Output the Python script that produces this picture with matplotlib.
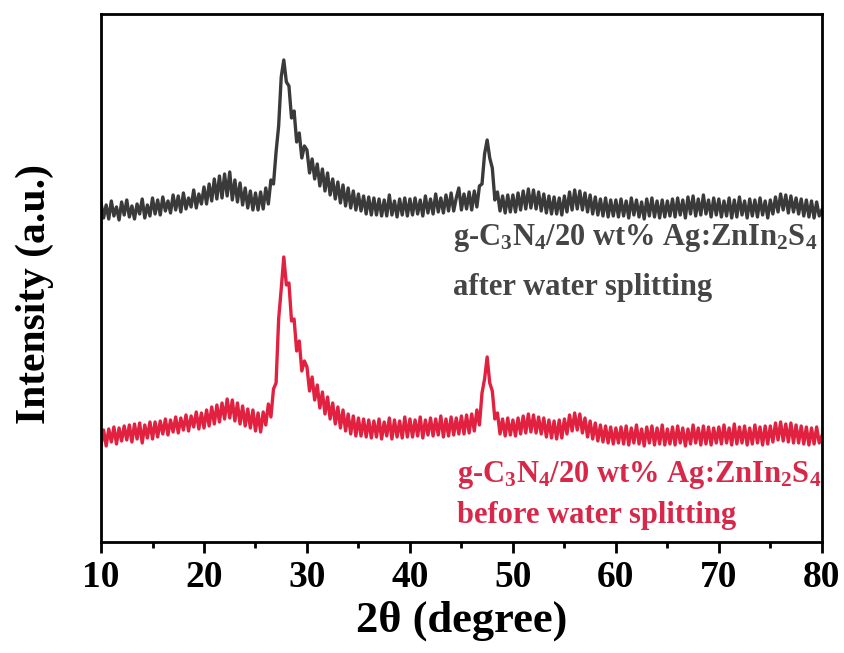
import numpy as np
import matplotlib.pyplot as plt
from matplotlib.ticker import MultipleLocator

# 2theta grid, 0.25 deg step, 10..80
two_theta = np.arange(10.0, 80.01, 0.25)

# after water splitting (grey), intensity above its own baseline
after_ws = [
    7, -8, 5, -9, 9, -6, 3, -10, 8, -5, 10, -7, 4, -9, 6, -4, 11, -8, 5, -6,
    12, -4, 10, -5, 13, -1, 9, -3, 15, 0, 14, -2, 17, 1, 12, 3, 20, 2, 16, 6,
    23, 6, 26, 9, 31, 11, 34, 12, 36, 14, 38, 10, 30, 8, 27, 5, 22, 2, 19, 0,
    17, 0, 18, 1, 22, 6, 30, 26, 58, 84, 133, 150, 128, 124, 92, 99, 68, 77, 52, 64,
    60, 37, 51, 31, 46, 24, 41, 19, 37, 15, 31, 11, 28, 7, 25, 4, 22, 2, 19, 0,
    16, -1, 14, -4, 13, -5, 12, -5, 11, -6, 10, -6, 15, -5, 9, -7, 11, -5, 12, -6,
    11, -5, 12, -4, 10, -6, 14, -3, 11, -4, 16, -2, 12, -3, 15, -1, 17, -1, 12, 22,
    0, 16, 1, 18, 0, 19, 3, 24, 26, 56, 70, 52, 42, 10, 18, -1, 14, -3, 15, -2,
    15, -2, 17, 0, 19, 1, 21, 2, 20, 1, 18, -1, 16, -3, 14, -4, 13, -4, 12, -5,
    14, -2, 18, 0, 20, 1, 19, 0, 17, -2, 15, -4, 13, -5, 11, -6, 12, -7, 10, -6,
    10, -7, 11, -6, 9, -8, 12, -5, 10, -7, 8, -9, 11, -6, 12, -7, 9, -8, 10, -7,
    9, -6, 11, -7, 12, -5, 10, -8, 13, -4, 14, -6, 11, -5, 15, -4, 10, -7, 12, -5,
    11, -7, 9, -6, 12, -8, 10, -7, 13, -5, 9, -8, 11, -6, 10, -7, 12, -5, 9, -8,
    10, -4, 13, -2, 16, 0, 15, -3, 14, -2, 12, -4, 11, -6, 10, -7, 9, -8, 8, -6,
    0,
]

# before water splitting (red)
before_ws = [
    -8, 7, -9, 8, -5, 10, -7, 9, -4, 11, -3, 12, -5, 13, -2, 14, -6, 12, -1, 15,
    -2, 15, 0, 16, 3, 18, 2, 17, 5, 20, 4, 19, 7, 22, 6, 21, 10, 25, 8, 24,
    9, 27, 11, 30, 13, 32, 15, 34, 18, 38, 19, 37, 16, 34, 13, 31, 11, 28, 9, 27,
    6, 24, 5, 25, 12, 33, 20, 48, 54, 118, 148, 180, 152, 154, 116, 118, 86, 96, 66, 76,
    70, 46, 60, 37, 52, 29, 45, 23, 40, 18, 34, 13, 30, 9, 27, 6, 23, 3, 21, 1,
    19, 1, 18, 0, 17, -1, 16, 0, 18, -2, 15, 1, 19, -2, 17, 0, 16, -1, 20, 0,
    18, 0, 17, 1, 20, -1, 17, 2, 19, 1, 18, 2, 21, 0, 18, 1, 20, 2, 19, 3,
    21, 3, 22, 4, 23, 6, 27, 12, 44, 58, 80, 54, 46, 18, 24, 3, 18, 1, 19, 2,
    17, 1, 19, 3, 21, 4, 23, 5, 22, 4, 20, 3, 19, 0, 17, -1, 16, -2, 17, -1,
    18, 3, 22, 6, 24, 7, 23, 4, 19, 0, 16, -2, 14, -4, 12, -5, 11, -6, 10, -7,
    9, -6, 10, -7, 11, -8, 9, -6, 12, -7, 8, -9, 10, -6, 11, -8, 9, -7, 12, -8,
    8, -7, 10, -8, 11, -6, 9, -9, 8, -7, 12, -6, 9, -8, 11, -7, 10, -8, 9, -6,
    10, -7, 12, -6, 9, -8, 13, -7, 10, -6, 11, -8, 9, -7, 12, -6, 10, -8, 11, -7,
    11, -5, 14, -3, 15, -4, 13, -5, 14, -6, 12, -6, 11, -7, 10, -8, 9, -7, 10, -6,
    1,
]

offset_after = 332
offset_before = 105

grey = '#3a3a3a'
red = '#e1213f'

plt.rcParams['font.family'] = ['Liberation Serif', 'DejaVu Serif']
plt.rcParams['font.weight'] = 'bold'
plt.rcParams['mathtext.fontset'] = 'custom'
plt.rcParams['mathtext.rm'] = 'Liberation Serif:bold'
plt.rcParams['mathtext.it'] = 'Liberation Serif:bold'
plt.rcParams['mathtext.bf'] = 'Liberation Serif:bold'

fig = plt.figure(figsize=(8.44, 6.53), dpi=100)
ax = fig.add_axes([0.1197, 0.170, 0.854, 0.8086])

ax.plot(two_theta, np.array(after_ws) + offset_after, color=grey, lw=2.4)
ax.plot(two_theta, np.array(before_ws) + offset_before, color=red, lw=2.4)

ax.set_xlim(10, 80)
ax.set_ylim(0, 528)
ax.xaxis.set_major_locator(MultipleLocator(10))
ax.xaxis.set_minor_locator(MultipleLocator(5))
ax.tick_params(axis='x', which='major', direction='out', length=8, width=2,
               labelsize=27, pad=5)
ax.tick_params(axis='x', which='minor', direction='out', length=4, width=2)
ax.set_yticks([])
for sp in ax.spines.values():
    sp.set_linewidth(2)

ax.set_xlabel('2θ (degree)', fontsize=32, fontweight='bold', labelpad=4)
ax.set_ylabel('Intensity (a.u.)', fontsize=30, fontweight='bold')
ax.yaxis.set_label_coords(-0.065, 0.47)

lab = r'g-C$_3$N$_4$/20 wt% Ag:ZnIn$_2$S$_4$'
ax.text(44.2, 297, lab, color='#454545', fontsize=22, fontweight='bold')
ax.text(44.2, 247, 'after water splitting', color='#454545', fontsize=22, fontweight='bold')
ax.text(44.6, 60, lab, color='#d8284a', fontsize=22, fontweight='bold')
ax.text(44.6, 19, 'before water splitting', color='#d8284a', fontsize=22, fontweight='bold')

plt.savefig('out.png', dpi=100)
